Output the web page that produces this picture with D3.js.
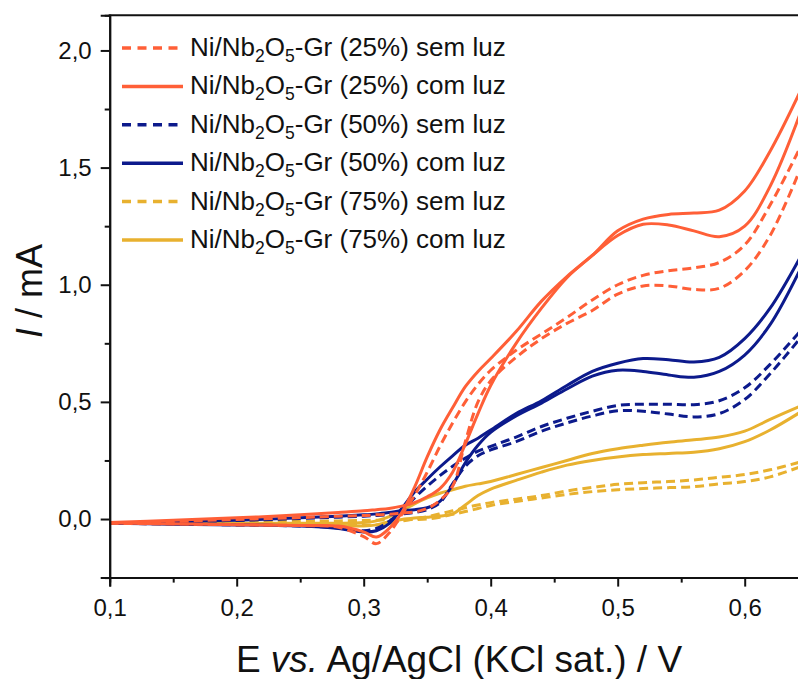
<!DOCTYPE html>
<html>
<head>
<meta charset="utf-8">
<script src="https://cdn.jsdelivr.net/npm/d3@7"></script>
<style>
  body { margin: 0; background: #fff; }
  text { font-family: "Liberation Sans", Arial, sans-serif; fill: #111; }
</style>
</head>
<body>
<svg width="798" height="679"></svg>
<script>
// potential grid (V vs Ag/AgCl), shared by every branch
var E = [0.10, 0.15, 0.20, 0.25, 0.28, 0.30, 0.31, 0.32, 0.33, 0.34, 0.35, 0.36, 0.37, 0.38,
         0.39, 0.40, 0.42, 0.44, 0.46, 0.48, 0.50, 0.52, 0.54, 0.56, 0.58, 0.60, 0.62, 0.645];

// 25% - sem luz (dashed) / com luz (solid)
var i25escuroIda  = [-0.018,-0.010,-0.002,0.006,0.012,0.015,0.018,0.020,0.025,0.030,0.045,0.080,0.140,0.330,
                     0.500,0.590,0.690,0.770,0.835,0.890,0.960,0.995,0.995,0.980,0.985,1.060,1.210,1.510];
var i25escuroVolta = [-0.018,-0.021,-0.024,-0.028,-0.035,-0.075,-0.105,-0.060,0.020,0.100,0.200,0.310,0.410,0.500,
                     0.575,0.635,0.720,0.790,0.860,0.935,1.000,1.040,1.060,1.072,1.095,1.170,1.340,1.600];
var i25luzIda     = [-0.015,-0.005,0.005,0.018,0.028,0.035,0.040,0.045,0.055,0.070,0.095,0.130,0.200,0.320,
                     0.450,0.570,0.750,0.900,1.030,1.125,1.210,1.258,1.255,1.230,1.205,1.250,1.420,1.750];
var i25luzVolta   = [-0.017,-0.020,-0.024,-0.028,-0.030,-0.055,-0.077,-0.040,0.028,0.135,0.265,0.380,0.475,0.565,
                     0.630,0.685,0.800,0.930,1.035,1.125,1.230,1.280,1.300,1.306,1.318,1.400,1.570,1.840];

// 50%
var i50escuroIda  = [-0.018,-0.012,-0.006,0.002,0.008,0.012,0.015,0.018,0.022,0.028,0.040,0.070,0.150,0.225,
                     0.270,0.295,0.330,0.375,0.410,0.440,0.462,0.460,0.448,0.436,0.450,0.510,0.620,0.780];
var i50escuroVolta = [-0.018,-0.021,-0.025,-0.030,-0.038,-0.050,-0.040,-0.010,0.035,0.090,0.140,0.185,0.225,0.260,
                     0.290,0.310,0.350,0.395,0.430,0.460,0.485,0.490,0.490,0.488,0.505,0.560,0.660,0.810];
var i50luzIda     = [-0.018,-0.012,-0.005,0.005,0.012,0.018,0.022,0.028,0.035,0.040,0.048,0.075,0.145,0.240,
                     0.315,0.370,0.440,0.495,0.555,0.610,0.635,0.630,0.615,0.605,0.630,0.700,0.830,1.080];
var i50luzVolta   = [-0.018,-0.022,-0.025,-0.030,-0.040,-0.055,-0.050,-0.020,0.045,0.115,0.170,0.222,0.270,0.315,
                     0.345,0.380,0.450,0.505,0.570,0.630,0.665,0.685,0.680,0.670,0.690,0.770,0.900,1.130];

// 75%
var i75escuroIda  = [-0.017,-0.015,-0.012,-0.010,-0.008,-0.006,-0.005,-0.004,-0.003,-0.002,0.000,0.008,0.020,0.032,
                     0.045,0.058,0.075,0.090,0.105,0.117,0.125,0.130,0.134,0.138,0.150,0.160,0.180,0.225];
var i75escuroVolta = [-0.017,-0.018,-0.019,-0.020,-0.022,-0.025,-0.025,-0.018,-0.008,0.000,0.010,0.022,0.035,0.048,
                     0.060,0.070,0.085,0.100,0.120,0.135,0.148,0.155,0.160,0.167,0.178,0.190,0.210,0.245];
var i75luzIda     = [-0.018,-0.020,-0.022,-0.025,-0.028,-0.030,-0.025,-0.012,-0.002,0.004,0.008,0.013,0.022,0.060,
                     0.100,0.128,0.165,0.200,0.230,0.250,0.265,0.275,0.280,0.285,0.300,0.330,0.380,0.460];
var i75luzVolta   = [-0.016,-0.017,-0.018,-0.018,-0.018,-0.015,-0.008,0.010,0.035,0.065,0.090,0.110,0.125,0.140,
                     0.150,0.160,0.190,0.220,0.250,0.280,0.300,0.315,0.328,0.338,0.350,0.375,0.425,0.485];

var legendLabels = ["(25%) sem luz", "(25%) com luz", "(50%) sem luz", "(50%) com luz", "(75%) sem luz", "(75%) com luz"];
var xTicks = [0.1, 0.2, 0.3, 0.4, 0.5, 0.6];
var yTicks = [0.0, 0.5, 1.0, 1.5, 2.0];

var laranja = "#ff5f37", azul = "#0c1a8c", amarelo = "#e8b12f";

var series = [
  {ida: i25escuroIda, volta: i25escuroVolta, cor: laranja, dash: true},
  {ida: i25luzIda, volta: i25luzVolta, cor: laranja, dash: false},
  {ida: i50escuroIda, volta: i50escuroVolta, cor: azul, dash: true},
  {ida: i50luzIda, volta: i50luzVolta, cor: azul, dash: false},
  {ida: i75escuroIda, volta: i75escuroVolta, cor: amarelo, dash: true},
  {ida: i75luzIda, volta: i75luzVolta, cor: amarelo, dash: false}
];

var svg = d3.select("svg");
var mEsq = 109.7, mTopo = 15.3, mDir = 808.2, mBase = 577.6;

var x = d3.scaleLinear().domain([0.1, 0.65]).range([mEsq, mDir]);
var y = d3.scaleLinear().domain([-0.25, 2.15]).range([mBase, mTopo]);
var virgula = function(d) { return d3.format(".1f")(d).replace(".", ","); };

svg.append("clipPath").attr("id", "area")
  .append("rect").attr("x", mEsq).attr("y", mTopo).attr("width", mDir - mEsq).attr("height", mBase - mTopo);

var linha = d3.line()
  .x(function(d) { return x(d[0]); })
  .y(function(d) { return y(d[1]); })
  .curve(d3.curveCatmullRom.alpha(0.5));

var curvas = svg.append("g").attr("clip-path", "url(#area)");

// draw in reverse order so orange ends on top
series.slice().reverse().forEach(function(s) {
  [s.ida, s.volta].forEach(function(vals) {
    curvas.append("path")
      .datum(E.map(function(e, i) { return [e, vals[i]]; }))
      .attr("d", linha)
      .attr("fill", "none")
      .attr("stroke", s.cor)
      .attr("stroke-width", 3)
      .attr("stroke-dasharray", s.dash ? "9,5" : null);
  });
});

// axes
var eixoX = d3.axisBottom(x).tickValues(xTicks).tickFormat(virgula).tickSize(9).tickPadding(12);
var eixoXmenor = d3.axisBottom(x).tickValues([0.15, 0.25, 0.35, 0.45, 0.55]).tickFormat("").tickSize(5);
var eixoY = d3.axisLeft(y).tickValues(yTicks).tickFormat(virgula).tickSize(9).tickPadding(9);
var eixoYmenor = d3.axisLeft(y).tickValues([-0.25, 0.25, 0.75, 1.25, 1.75]).tickFormat("").tickSize(5);

function estilo(g) {
  g.selectAll("path").attr("stroke", "#111").attr("stroke-width", 2);
  g.selectAll("line").attr("stroke", "#111").attr("stroke-width", 2);
  g.selectAll("text").attr("font-size", 24).attr("fill", "#111")
    .attr("font-family", "'Liberation Sans', Arial, sans-serif");
}

svg.append("g").attr("transform", "translate(0," + mBase + ")").call(eixoXmenor).call(estilo);
svg.append("g").attr("transform", "translate(0," + mBase + ")").call(eixoX).call(estilo);
svg.append("g").attr("transform", "translate(" + mEsq + ",0)").call(eixoYmenor).call(estilo);
svg.append("g").attr("transform", "translate(" + mEsq + ",0)").call(eixoY).call(estilo);

svg.append("line").attr("x1", mEsq - 1).attr("x2", mDir).attr("y1", mTopo).attr("y2", mTopo)
  .attr("stroke", "#111").attr("stroke-width", 2);

// axis titles
var tx = svg.append("text").attr("x", 459).attr("y", 672).attr("text-anchor", "middle").attr("font-size", 37);
tx.append("tspan").text("E ");
tx.append("tspan").attr("font-style", "italic").text("vs.");
tx.append("tspan").text(" Ag/AgCl (KCl sat.) / V");

var ty = svg.append("text").attr("transform", "translate(42,291) rotate(-90)")
  .attr("text-anchor", "middle").attr("font-size", 36);
ty.append("tspan").attr("font-style", "italic").text("I");
ty.append("tspan").text(" / mA");

// legend
var leg = svg.append("g");
series.forEach(function(s, i) {
  var cy = 48 + i * 38.4;
  leg.append("line").attr("x1", 122).attr("x2", 183).attr("y1", cy).attr("y2", cy)
    .attr("stroke", s.cor).attr("stroke-width", 3.5)
    .attr("stroke-dasharray", s.dash ? "9,6.5" : null);
  var t = leg.append("text").attr("x", 190).attr("y", cy + 8).attr("font-size", 26);
  t.append("tspan").text("Ni/Nb");
  t.append("tspan").attr("font-size", 17.5).attr("dy", 6).text("2");
  t.append("tspan").attr("dy", -6).text("O");
  t.append("tspan").attr("font-size", 17.5).attr("dy", 6).text("5");
  t.append("tspan").attr("dy", -6).text("-Gr " + legendLabels[i]);
});
</script>
</body>
</html>
